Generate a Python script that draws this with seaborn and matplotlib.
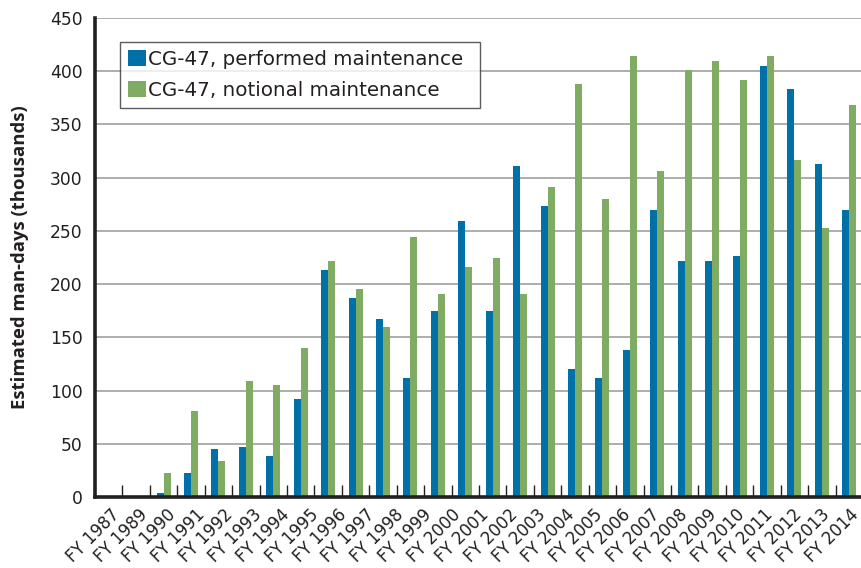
import numpy as np
import pandas as pd
import matplotlib
matplotlib.use("Agg")
import matplotlib.pyplot as plt
import seaborn as sns

# ---- data ----
# 28 bar slots along the axis; the first two slots carry no data
slots = list(range(28))
performed = [0, 0, 4, 23, 45, 47, 38.5, 92, 213, 187, 167, 111.5, 175, 259, 175,
             311, 273, 120, 112, 138, 270, 222, 222, 226, 405, 383, 312.5, 270]
notional = [0, 0, 23, 81, 34, 109, 105, 140, 222, 195, 160, 244, 191, 216, 224.5,
            191, 291, 388, 280, 414.5, 306, 401, 410, 392, 414.5, 317, 253, 368]
tick_labels = ["FY 1987", "FY 1989"] + [f"FY {y}" for y in range(1990, 2015)]
series_names = ["CG-47, performed maintenance", "CG-47, notional maintenance"]
colors = ["#0070a9", "#7fac62"]
y_ticks = list(range(0, 451, 50))

df = pd.DataFrame({
    "slot": slots * 2,
    "value": performed + notional,
    "series": [series_names[0]] * len(slots) + [series_names[1]] * len(slots),
})

sns.set_theme(style="white")
plt.rcParams["font.family"] = ["DejaVu Sans"]

fig = plt.figure(figsize=(8.62, 5.68), dpi=100)
ax = fig.add_axes([95 / 862, 71 / 568, 768 / 862, 479 / 568])

sns.barplot(data=df, x="slot", y="value", hue="series", order=slots,
            hue_order=series_names, palette=colors, width=0.51, gap=0,
            saturation=1, ax=ax, linewidth=0)

ax.set_ylim(0, 450)
ax.set_xlim(-0.5, len(slots) - 0.5)
ax.set_yticks(y_ticks)
ax.set_yticklabels([str(v) for v in y_ticks])
ax.tick_params(axis="y", length=0, pad=9, labelsize=12.3, labelcolor="#231f20")

# category labels spread across the axis
label_pos = np.linspace(0.05, 27.0, len(tick_labels))
ax.set_xticks(label_pos)
ax.set_xticklabels(tick_labels, rotation=45, ha="right", va="top",
                   rotation_mode="anchor")
ax.tick_params(axis="x", which="major", length=0, pad=6, labelsize=12,
               labelcolor="#231f20")
# small inward ticks at slot boundaries
ax.set_xticks(np.arange(0.5, len(slots) - 0.5, 1.0), minor=True)
ax.tick_params(axis="x", which="minor", direction="in", length=8.5, width=1.0,
               color="#231f20", bottom=True)

ax.set_xlabel("")
ax.set_ylabel("Estimated man-days (thousands)", fontsize=13.3,
              fontweight="bold", color="#231f20", labelpad=15,
              family=["Open Sans", "DejaVu Sans"])

ax.yaxis.grid(True, color="#a7a7a7", linewidth=1.3)
ax.xaxis.grid(False)
ax.set_axisbelow(True)

for s in ["top", "right"]:
    ax.spines[s].set_visible(False)
for s in ["left", "bottom"]:
    ax.spines[s].set_linewidth(2.6)
    ax.spines[s].set_color("#231f20")
    ax.spines[s].set_zorder(5)

handles, labels = ax.get_legend_handles_labels()
leg = ax.legend(handles, labels, loc="upper left", mode="expand",
                bbox_to_anchor=(25 / 768, 1 - 24 / 479, 360 / 768, 0),
                borderaxespad=0,
                frameon=True, fancybox=False, edgecolor="#333333",
                fontsize=14.3, handlelength=0.89, handleheight=0.89,
                handletextpad=0.12, labelspacing=0.6, borderpad=0.4)
leg.get_frame().set_linewidth(1.0)
for t in leg.get_texts():
    t.set_color("#231f20")

fig.savefig("out.png", dpi=100)
